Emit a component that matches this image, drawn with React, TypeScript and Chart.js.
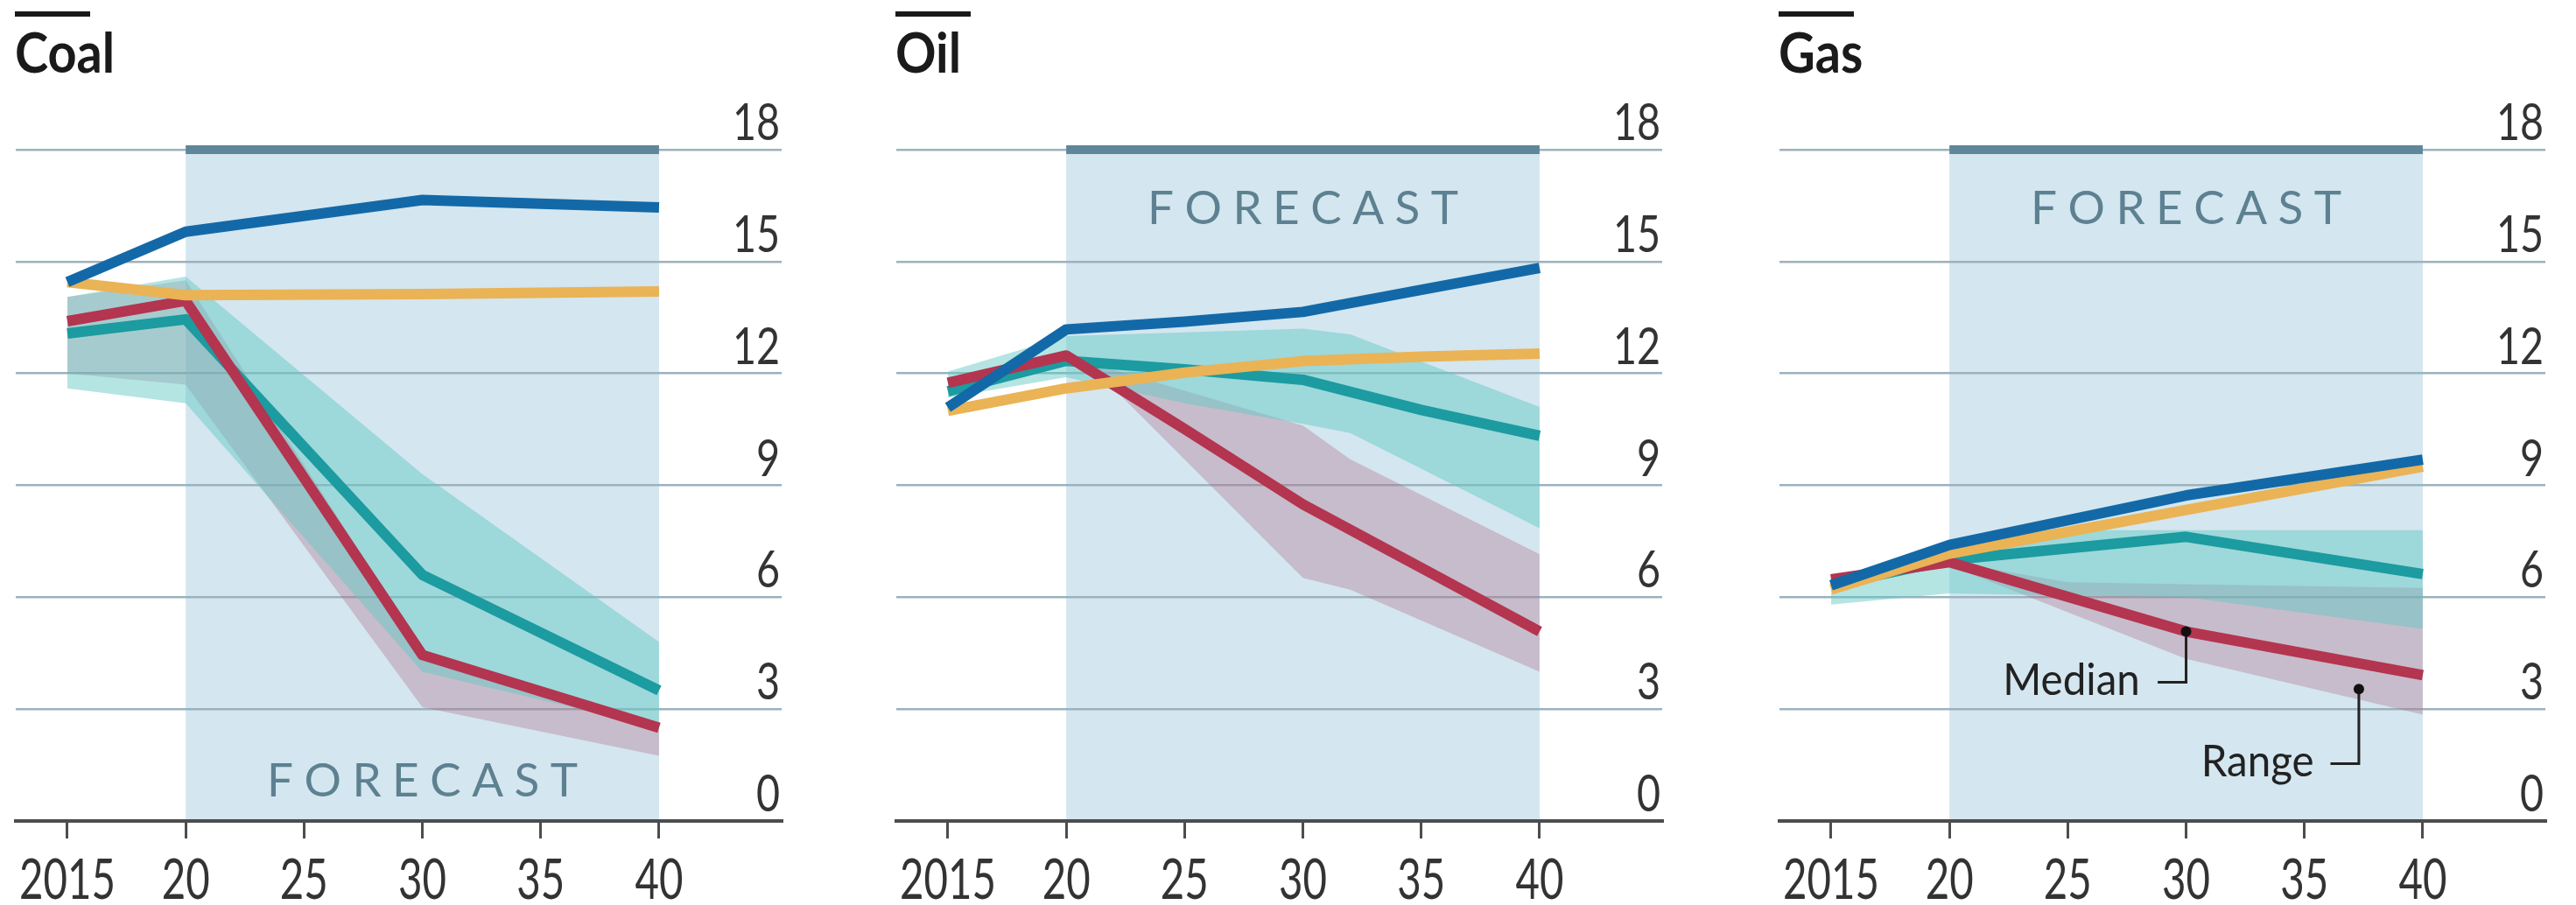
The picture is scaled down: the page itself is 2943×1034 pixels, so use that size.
import { useEffect, useRef } from "react";
import { Chart, registerables } from "chart.js";

Chart.register(...registerables);

// ---------- axes ----------
const X_MIN = 2012.82;
const X_MAX = 2045.18;
const X_TICKS = [2015, 2020, 2025, 2030, 2035, 2040];
const X_TICK_LABELS = ["2015", "20", "25", "30", "35", "40"];
const Y_TICKS = [0, 3, 6, 9, 12, 15, 18];
const Y_TICK_LABELS = ["0", "3", "6", "9", "12", "15", "18"];
const FORECAST_START = 2020;
const FORECAST_END = 2040;

// ---------- Coal ----------
const COAL_YEARS = [2015, 2020, 2030, 2040];
const COAL_BLUE = [14.45, 15.8, 16.65, 16.45];
const COAL_YELLOW = [14.45, 14.1, 14.13, 14.2];
const COAL_RED = [13.4, 13.95, 4.45, 2.5];
const COAL_TEAL = [13.07, 13.45, 6.6, 3.5];
const COAL_TEAL_HIGH = [14.05, 14.6, 9.3, 4.8];
const COAL_TEAL_LOW = [11.6, 11.2, 4.0, 2.5];
const COAL_RED_HIGH = [14.05, 14.5, 4.6, 2.6];
const COAL_RED_LOW = [12.0, 11.7, 3.05, 1.75];

// ---------- Oil ----------
const OIL_YEARS = [2015, 2020, 2025, 2030, 2035, 2040];
const OIL_BLUE = [11.09, 13.18, 13.39, 13.65, 14.24, 14.83];
const OIL_YELLOW = [11.0, 11.6, 12.02, 12.33, 12.45, 12.53];
const OIL_RED = [11.75, 12.48, 10.51, 8.49, 6.79, 5.08];
const OIL_TEAL = [11.52, 12.34, 12.11, 11.83, 11.02, 10.33];
const OIL_TEAL_BAND_YEARS = [2015, 2020, 2025, 2030, 2032, 2040];
const OIL_TEAL_HIGH = [12.05, 13.0, 13.1, 13.2, 13.05, 11.1];
const OIL_TEAL_LOW = [11.35, 11.9, 11.2, 10.65, 10.4, 7.85];
const OIL_RED_BAND_YEARS = [2020, 2022, 2030, 2032, 2040];
const OIL_RED_HIGH = [12.5, 12.1, 10.6, 9.7, 7.15];
const OIL_RED_LOW = [12.4, 11.6, 6.52, 6.2, 4.0];

// ---------- Gas ----------
const GAS_YEARS = [2015, 2020, 2030, 2040];
const GAS_BLUE = [6.32, 7.4, 8.73, 9.69];
const GAS_YELLOW = [6.21, 7.17, 8.34, 9.5];
const GAS_RED = [6.48, 6.94, 5.08, 3.91];
const GAS_TEAL = [6.32, 7.0, 7.62, 6.62];
const GAS_TEAL_BAND_YEARS = [2015, 2020, 2022, 2030, 2040];
const GAS_TEAL_HIGH = [6.5, 7.2, 7.8, 7.8, 7.8];
const GAS_TEAL_LOW = [5.8, 6.1, 6.08, 6.0, 5.15];
const GAS_RED_BAND_YEARS = [2020, 2025, 2030, 2040];
const GAS_RED_HIGH = [6.95, 6.4, 6.35, 6.25];
const GAS_RED_LOW = [6.85, 5.6, 4.35, 2.85];

// ---------- styles ----------
const BLUE = "#1369a8";
const YELLOW = "#eab355";
const RED = "#b3354f";
const TEAL = "#1c9ba0";
const TEAL_BAND = "rgba(98, 200, 196, 0.48)";
const RED_BAND = "rgba(172, 104, 130, 0.33)";
const FORECAST_BG = "#d4e6ef";
const FORECAST_BAR = "#5e889a";
const GRID = "#9cb2bc";
const AXIS = "#4d4d4d";
const TEXT = "#333333";
const FORECAST_TEXT = "#5d8191";
const FONT = "Lato, 'Open Sans', sans-serif";

const CANVAS_W = 928;
const CANVAS_H = 1034;

type Note = { text: string; x: number; y: number; elbowY: number; elbowX: number; textX: number; textY: number };

type PanelDef = {
  title: string;
  years: number[];
  blue: number[];
  yellow: number[];
  red: number[];
  teal: number[];
  tealYears: number[];
  tealHigh: number[];
  tealLow: number[];
  redYears: number[];
  redHigh: number[];
  redLow: number[];
  forecastY: number;
  notes: Note[];
};

const PANELS: { left: number; def: PanelDef }[] = [
  {
    left: 0,
    def: {
      title: "Coal",
      years: COAL_YEARS,
      blue: COAL_BLUE,
      yellow: COAL_YELLOW,
      red: COAL_RED,
      teal: COAL_TEAL,
      tealYears: COAL_YEARS,
      tealHigh: COAL_TEAL_HIGH,
      tealLow: COAL_TEAL_LOW,
      redYears: COAL_YEARS,
      redHigh: COAL_RED_HIGH,
      redLow: COAL_RED_LOW,
      forecastY: 0.66,
      notes: [],
    },
  },
  {
    left: 1006,
    def: {
      title: "Oil",
      years: OIL_YEARS,
      blue: OIL_BLUE,
      yellow: OIL_YELLOW,
      red: OIL_RED,
      teal: OIL_TEAL,
      tealYears: OIL_TEAL_BAND_YEARS,
      tealHigh: OIL_TEAL_HIGH,
      tealLow: OIL_TEAL_LOW,
      redYears: OIL_RED_BAND_YEARS,
      redHigh: OIL_RED_HIGH,
      redLow: OIL_RED_LOW,
      forecastY: 16.0,
      notes: [],
    },
  },
  {
    left: 2015,
    def: {
      title: "Gas",
      years: GAS_YEARS,
      blue: GAS_BLUE,
      yellow: GAS_YELLOW,
      red: GAS_RED,
      teal: GAS_TEAL,
      tealYears: GAS_TEAL_BAND_YEARS,
      tealHigh: GAS_TEAL_HIGH,
      tealLow: GAS_TEAL_LOW,
      redYears: GAS_RED_BAND_YEARS,
      redHigh: GAS_RED_HIGH,
      redLow: GAS_RED_LOW,
      forecastY: 16.0,
      notes: [
        { text: "Median", x: 2030, y: 5.08, elbowY: 3.72, elbowX: 2028.8, textX: 2028.05, textY: 3.37 },
        { text: "Range", x: 2037.3, y: 3.54, elbowY: 1.54, elbowX: 2036.1, textX: 2035.4, textY: 1.19 },
      ],
    },
  },
];

function pts(xs: number[], ys: number[]) {
  return xs.map((x, i) => ({ x, y: ys[i] }));
}

function drawText(
  ctx: CanvasRenderingContext2D,
  text: string,
  x: number,
  y: number,
  font: string,
  color: string,
  align: "left" | "center" | "right",
  sx = 1,
  spacing = 0
) {
  ctx.save();
  ctx.font = font;
  ctx.fillStyle = color;
  ctx.textBaseline = "alphabetic";
  ctx.textAlign = "left";
  const chars = spacing ? Array.from(text) : [text];
  const widths = chars.map((c) => ctx.measureText(c).width);
  const total = (widths.reduce((a, b) => a + b, 0) + spacing * (chars.length - 1)) * sx;
  const start = align === "left" ? x : align === "center" ? x - total / 2 : x - total;
  ctx.translate(start, y);
  ctx.scale(sx, 1);
  let cx = 0;
  chars.forEach((c, i) => {
    ctx.fillText(c, cx, 0);
    cx += widths[i] + spacing;
  });
  ctx.restore();
}

function makePlugin(def: PanelDef) {
  return {
    id: "panelDecor",
    beforeDraw(chart: any) {
      const { ctx, scales } = chart;
      const x0 = scales.x.getPixelForValue(FORECAST_START);
      const x1 = scales.x.getPixelForValue(FORECAST_END);
      const yTop = scales.y.getPixelForValue(18);
      const yBot = scales.y.getPixelForValue(0);
      ctx.save();
      ctx.fillStyle = FORECAST_BG;
      ctx.fillRect(x0, yTop, x1 - x0, yBot - yTop);
      ctx.restore();
    },
    beforeDatasetsDraw(chart: any) {
      const { ctx, scales } = chart;
      const x0 = scales.x.getPixelForValue(FORECAST_START);
      const x1 = scales.x.getPixelForValue(FORECAST_END);
      const yTop = scales.y.getPixelForValue(18);
      ctx.save();
      ctx.fillStyle = FORECAST_BAR;
      ctx.fillRect(x0, yTop - 5, x1 - x0, 10);
      ctx.restore();
      drawText(
        ctx,
        "FORECAST",
        scales.x.getPixelForValue(2030),
        scales.y.getPixelForValue(def.forecastY),
        `400 53px ${FONT}`,
        FORECAST_TEXT,
        "center",
        1,
        12.5
      );
    },
    afterDraw(chart: any) {
      const { ctx, scales, chartArea } = chart;
      // y labels above gridlines
      Y_TICKS.forEach((v, i) => {
        drawText(ctx, Y_TICK_LABELS[i], chartArea.right - 2, scales.y.getPixelForValue(v) - 11, `400 59px ${FONT}`, TEXT, "right", 0.79);
      });
      // x labels
      X_TICKS.forEach((v, i) => {
        drawText(ctx, X_TICK_LABELS[i], scales.x.getPixelForValue(v), chartArea.bottom + 89, `400 64px ${FONT}`, TEXT, "center", 0.74);
      });
      // title with overline
      ctx.save();
      ctx.fillStyle = "#1a1a1a";
      ctx.fillRect(chartArea.left - 1, 13, 86, 6);
      ctx.restore();
      drawText(ctx, def.title, chartArea.left - 1, 83, `700 64px ${FONT}`, "#1a1a1a", "left", 0.9);
      // notes
      def.notes.forEach((n) => {
        const px = scales.x.getPixelForValue(n.x);
        const py = scales.y.getPixelForValue(n.y);
        const ey = scales.y.getPixelForValue(n.elbowY);
        const ex = scales.x.getPixelForValue(n.elbowX);
        ctx.save();
        ctx.strokeStyle = "#222";
        ctx.lineWidth = 3;
        ctx.beginPath();
        ctx.moveTo(px, py);
        ctx.lineTo(px, ey);
        ctx.lineTo(ex, ey);
        ctx.stroke();
        ctx.fillStyle = "#111";
        ctx.beginPath();
        ctx.arc(px, py, 6, 0, Math.PI * 2);
        ctx.fill();
        ctx.restore();
        drawText(ctx, n.text, scales.x.getPixelForValue(n.textX), scales.y.getPixelForValue(n.textY), `400 50px ${FONT}`, "#222", "right", 0.95);
      });
    },
  };
}

function lineDs(label: string, xs: number[], ys: number[], color: string) {
  return {
    label,
    data: pts(xs, ys),
    borderColor: color,
    backgroundColor: color,
    borderWidth: 12,
    pointRadius: 0,
    tension: 0,
    fill: false,
    borderJoinStyle: "round" as const,
    borderCapStyle: "butt" as const,
  };
}

function bandDs(label: string, xs: number[], ys: number[], color: string, fill: number | false) {
  return {
    label,
    data: pts(xs, ys),
    borderWidth: 0,
    borderColor: "rgba(0,0,0,0)",
    backgroundColor: color,
    pointRadius: 0,
    tension: 0,
    fill,
  };
}

function Panel({ left, def }: { left: number; def: PanelDef }) {
  const ref = useRef<HTMLCanvasElement>(null);
  useEffect(() => {
    if (!ref.current) return;
    const datasets: any[] = [
      lineDs("Blue", def.years, def.blue, BLUE), // 0
      lineDs("Yellow", def.years, def.yellow, YELLOW), // 1
      lineDs("Red median", def.years, def.red, RED), // 2
      lineDs("Teal median", def.years, def.teal, TEAL), // 3
      bandDs("Teal range high", def.tealYears, def.tealHigh, TEAL_BAND, 5), // 4
      bandDs("Teal range low", def.tealYears, def.tealLow, TEAL_BAND, false), // 5
      bandDs("Red range high", def.redYears, def.redHigh, RED_BAND, 7), // 6
      bandDs("Red range low", def.redYears, def.redLow, RED_BAND, false), // 7
    ];
    const chart = new Chart(ref.current, {
      type: "line",
      data: { datasets },
      options: {
        responsive: false,
        devicePixelRatio: 1,
        animation: false,
        events: [],
        layout: { padding: { left: 18, right: 35, top: 171, bottom: 0 } },
        plugins: {
          legend: { display: false },
          tooltip: { enabled: false },
        },
        scales: {
          x: {
            type: "linear",
            position: "bottom",
            min: X_MIN,
            max: X_MAX,
            afterBuildTicks: (s: any) => {
              s.ticks = X_TICKS.map((value) => ({ value }));
            },
            afterFit: (s: any) => {
              s.height = 96;
            },
            ticks: { display: false },
            grid: {
              display: true,
              drawOnChartArea: false,
              drawTicks: true,
              tickLength: 20,
              tickWidth: 3,
              tickColor: AXIS,
              color: AXIS,
              lineWidth: 3,
            },
            border: { display: true, color: AXIS, width: 4 },
          },
          y: {
            type: "linear",
            position: "right",
            min: 0,
            max: 18,
            afterBuildTicks: (s: any) => {
              s.ticks = Y_TICKS.map((value) => ({ value }));
            },
            afterFit: (s: any) => {
              s.width = 0;
            },
            ticks: { display: false },
            grid: { color: GRID, lineWidth: 2.5, drawTicks: false },
            border: { display: false },
          },
        },
      } as any,
      plugins: [makePlugin(def) as any],
    });
    return () => chart.destroy();
  }, [def]);
  return (
    <canvas
      ref={ref}
      width={CANVAS_W}
      height={CANVAS_H}
      style={{ position: "absolute", left, top: 0, width: CANVAS_W, height: CANVAS_H }}
    />
  );
}

export default function App() {
  return (
    <div
      style={{
        position: "absolute",
        left: 0,
        top: 0,
        width: 2943,
        height: 1034,
        background: "#ffffff",
        overflow: "hidden",
      }}
    >
      {PANELS.map((p) => (
        <Panel key={p.def.title} left={p.left} def={p.def} />
      ))}
    </div>
  );
}
